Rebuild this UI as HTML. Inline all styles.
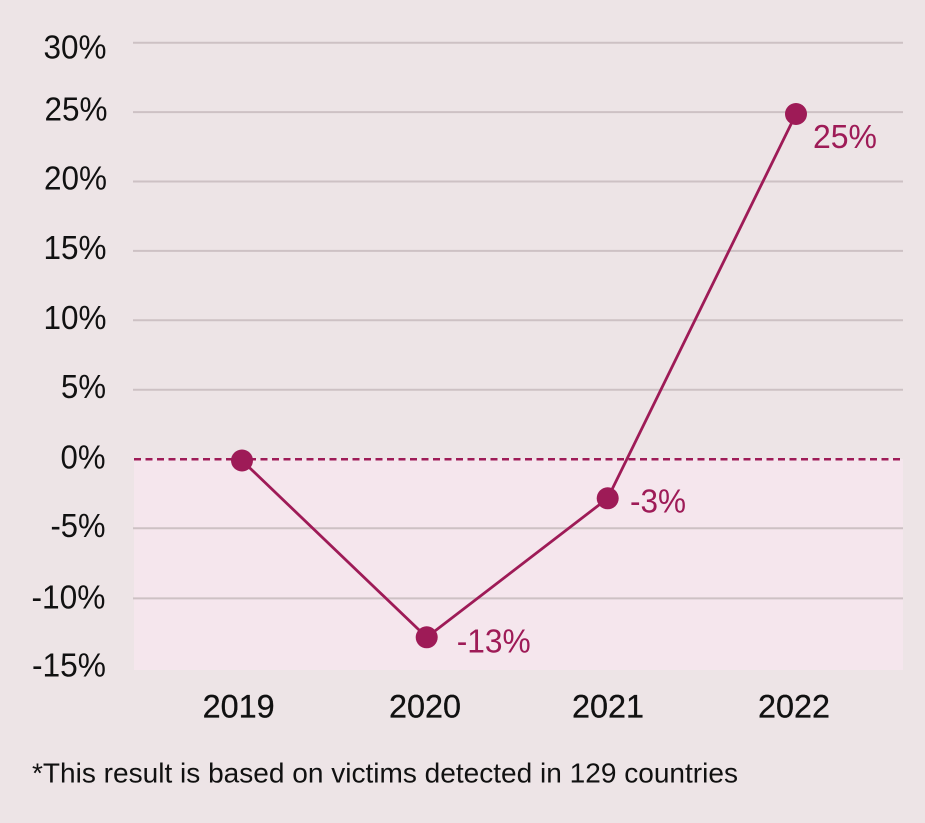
<!DOCTYPE html>
<html><head><meta charset="utf-8"><style>
html,body{margin:0;padding:0;background:#ede4e6;}
svg{display:block;}
text{font-family:"Liberation Sans",sans-serif;}
</style></head><body>
<svg width="925" height="823" viewBox="0 0 925 823" xmlns="http://www.w3.org/2000/svg">
<rect x="0" y="0" width="925" height="823" fill="#ede4e6"/>
<rect x="134" y="459" width="769" height="211" fill="#f5e6ed"/>
<g stroke="#cdc1c4" stroke-width="2">
<line x1="133" y1="42.7" x2="903" y2="42.7"/>
<line x1="133" y1="112.1" x2="903" y2="112.1"/>
<line x1="133" y1="181.5" x2="903" y2="181.5"/>
<line x1="133" y1="250.9" x2="903" y2="250.9"/>
<line x1="133" y1="320.3" x2="903" y2="320.3"/>
<line x1="133" y1="389.7" x2="903" y2="389.7"/>
<line x1="133" y1="528.2" x2="903" y2="528.2"/>
<line x1="133" y1="598.4" x2="903" y2="598.4"/>
</g>
<line x1="134" y1="459.3" x2="903" y2="459.3" stroke="#9e1b57" stroke-width="2.5" stroke-dasharray="7,4.5"/>
<g font-size="33" fill="#111" text-anchor="end" lengthAdjust="spacingAndGlyphs">
<text x="106.5" y="58.3" textLength="63" lengthAdjust="spacingAndGlyphs">30%</text>
<text x="107.5" y="120.7" textLength="63" lengthAdjust="spacingAndGlyphs">25%</text>
<text x="107" y="189.3" textLength="63" lengthAdjust="spacingAndGlyphs">20%</text>
<text x="106.5" y="259" textLength="63" lengthAdjust="spacingAndGlyphs">15%</text>
<text x="106.5" y="328.8" textLength="63" lengthAdjust="spacingAndGlyphs">10%</text>
<text x="106" y="398" textLength="45" lengthAdjust="spacingAndGlyphs">5%</text>
<text x="105.5" y="468.3" textLength="45" lengthAdjust="spacingAndGlyphs">0%</text>
<text x="105.5" y="537" textLength="55" lengthAdjust="spacingAndGlyphs">-5%</text>
<text x="105.5" y="608.3" textLength="74" lengthAdjust="spacingAndGlyphs">-10%</text>
<text x="106" y="676.7" textLength="74" lengthAdjust="spacingAndGlyphs">-15%</text>
</g>
<polyline points="242,460.5 426.7,637.3 607.7,498.3 796,114" fill="none" stroke="#9e1b57" stroke-width="2.8" stroke-linejoin="round"/>
<g fill="#9e1b57">
<circle cx="242" cy="460.5" r="11"/>
<circle cx="426.7" cy="637.3" r="11"/>
<circle cx="607.7" cy="498.3" r="11"/>
<circle cx="796" cy="114" r="11"/>
</g>
<g font-size="33" fill="#9e1b57">
<text x="813" y="148" textLength="64" lengthAdjust="spacingAndGlyphs">25%</text>
<text x="630" y="512.7" textLength="56" lengthAdjust="spacingAndGlyphs">-3%</text>
<text x="456.7" y="652.7" textLength="74" lengthAdjust="spacingAndGlyphs">-13%</text>
</g>
<g font-size="32" fill="#111" stroke="#111" stroke-width="0.3">
<text x="202.7" y="717.7" textLength="72" lengthAdjust="spacingAndGlyphs">2019</text>
<text x="389" y="717.7" textLength="72" lengthAdjust="spacingAndGlyphs">2020</text>
<text x="572" y="717.7" textLength="72" lengthAdjust="spacingAndGlyphs">2021</text>
<text x="758" y="717.7" textLength="72" lengthAdjust="spacingAndGlyphs">2022</text>
</g>
<text x="32" y="782.7" font-size="27.5" fill="#111" textLength="706" lengthAdjust="spacingAndGlyphs">*This result is based on victims detected in 129 countries</text>
</svg>
</body></html>
